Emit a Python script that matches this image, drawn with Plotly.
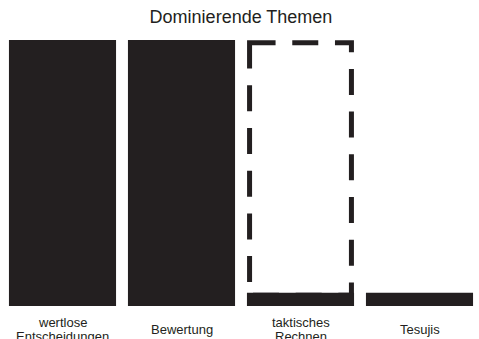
import plotly.graph_objects as go

# Chart data
categories = ["wertlose Entscheidungen", "Bewertung", "taktisches Rechnen", "Tesujis"]
label_lines = [["wertlose", "Entscheidungen"], ["Bewertung"], ["taktisches", "Rechnen"], ["Tesujis"]]
values = [100, 100, 5, 5]
# dashed outline showing the expected level for a category (None = no outline)
outline_values = [None, None, 100, None]

INK = "#231f20"
FONT = "Liberation Sans, Arial, sans-serif"

fig = go.Figure()
fig.add_trace(go.Bar(
    x=categories,
    y=values,
    marker=dict(color=INK, line=dict(width=0)),
    hoverinfo="x+y",
))

# dashed outlines, inset by half a line width so they sit inside the bar footprint
half_w = 0.45
dx, dy = 0.022, 1.0
for i, (ov, v) in enumerate(zip(outline_values, values)):
    if ov is None:
        continue
    fig.add_shape(
        type="rect", xref="x", yref="y", layer="below",
        x0=i - half_w + dx, x1=i + half_w - dx,
        y0=ov - dy, y1=v - dy,
        line=dict(color=INK, width=5, dash="26px,16.7px"),
        fillcolor="rgba(0,0,0,0)",
    )

# category labels: each line placed separately for tight line spacing,
# the block vertically centred under the axis
LABEL_CENTER = 23.5   # px below the plot area
LINE_STEP = 13.5
for cat, lines in zip(categories, label_lines):
    n = len(lines)
    for j, line in enumerate(lines):
        offset = LABEL_CENTER + (j - (n - 1) / 2) * LINE_STEP
        fig.add_annotation(
            x=cat, xref="x", y=0, yref="paper",
            text=line, showarrow=False,
            xanchor="center", yanchor="middle", yshift=-offset,
            font=dict(family=FONT, size=13, color=INK),
        )

fig.update_layout(
    width=479, height=339,
    margin=dict(l=3, r=0, t=40, b=33),
    paper_bgcolor="white", plot_bgcolor="white",
    bargap=0.1,
    showlegend=False,
    title=dict(
        text="Dominierende Themen",
        x=0.5, xref="paper", xanchor="center",
        y=1 - 16.8 / 339, yref="container", yanchor="middle",
        font=dict(family=FONT, size=18, color=INK),
    ),
    xaxis=dict(showgrid=False, zeroline=False, showticklabels=False,
               showline=False, ticks=""),
    yaxis=dict(range=[0, 100], showgrid=False, zeroline=False,
               showticklabels=False, showline=False, ticks=""),
)

fig.write_html("out.html")
